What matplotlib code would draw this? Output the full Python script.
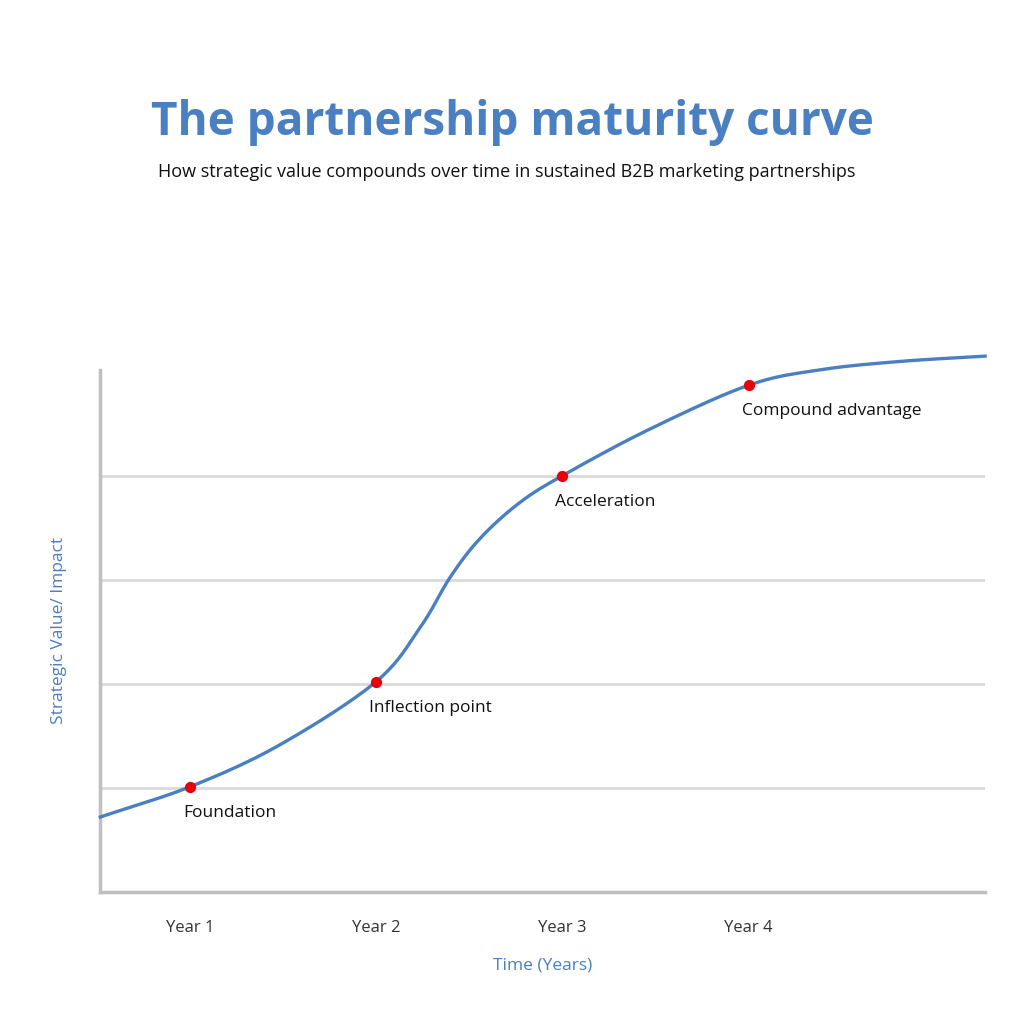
import numpy as np
import matplotlib
matplotlib.use("Agg")
import matplotlib.pyplot as plt

BLUE = "#4a7fc1"
# curve (x in years, y in gridline units)
curve_x = [0.52, 1.0, 1.48, 2.0, 2.24, 2.40, 2.56, 2.77, 3.0, 3.46, 4.0, 4.39, 4.82, 5.27]
curve_y = [0.72, 1.01, 1.41, 2.02, 2.55, 3.03, 3.40, 3.74, 4.0, 4.44, 4.87, 5.02, 5.10, 5.15]
stage_x = [1, 2, 3, 4]
stage_y = [1.01, 2.02, 4.0, 4.87]
stages = ["Foundation", "Inflection point", "Acceleration", "Compound advantage"]
tick_labels = ["Year 1", "Year 2", "Year 3", "Year 4"]


def catmull_rom(xs, ys, n=20):
    # smooth rendering through the read points
    p = np.column_stack([xs, ys])
    p = np.vstack([2 * p[0] - p[1], p, 2 * p[-1] - p[-2]])
    out = []
    for i in range(1, len(p) - 2):
        p0, p1, p2, p3 = p[i - 1], p[i], p[i + 1], p[i + 2]
        for t in np.linspace(0, 1, n, endpoint=False):
            t2, t3 = t * t, t * t * t
            out.append(0.5 * (2 * p1 + (-p0 + p2) * t + (2 * p0 - 5 * p1 + 4 * p2 - p3) * t2
                              + (-p0 + 3 * p1 - 3 * p2 + p3) * t3))
    out.append(p[-2])
    out = np.array(out)
    return out[:, 0], out[:, 1]


plt.rcParams["font.family"] = ["Open Sans", "DejaVu Sans"]
fig = plt.figure(figsize=(10.24, 10.24), dpi=100)
ax = fig.add_axes([0.098, 0.129, 0.864, 0.51])

for g in [1, 2, 3, 4]:
    ax.axhline(g, color="#dcdcdc", lw=2.2, zorder=1)

sx, sy = catmull_rom(curve_x, curve_y)
ax.plot(sx, sy, color=BLUE, lw=2.4, clip_on=False, zorder=3)
ax.scatter(stage_x, stage_y, s=50, color="#e8000b", zorder=4, clip_on=False)
for x, y, s in zip(stage_x, stage_y, stages):
    ax.annotate(s, (x, y), xytext=(-5, -13), textcoords="offset points",
                ha="left", va="top", fontsize=12.5, color="#111111")

ax.set_xlim(0.52, 5.27)
ax.set_ylim(0, 5.02)
ax.set_xticks(stage_x)
ax.set_xticklabels(tick_labels, fontsize=12, color="#333333")
ax.tick_params(axis="x", length=0, pad=20)
ax.set_yticks([])
for s in ["top", "right"]:
    ax.spines[s].set_visible(False)
for s in ["left", "bottom"]:
    ax.spines[s].set_color("#bfbfbf")
    ax.spines[s].set_linewidth(2.5)
ax.set_xlabel("Time (Years)", color=BLUE, fontsize=12.5, labelpad=16)
ax.set_ylabel("Strategic Value/ Impact", color=BLUE, fontsize=12.5, labelpad=24)

fig.text(0.5, 0.88, "The partnership maturity curve", ha="center", va="center",
         fontsize=33, fontweight="bold", color=BLUE)
fig.text(0.495, 0.832, "How strategic value compounds over time in sustained B2B marketing partnerships",
         ha="center", va="center", fontsize=13, color="#111111")

fig.savefig("out.png", dpi=100, facecolor="white")
